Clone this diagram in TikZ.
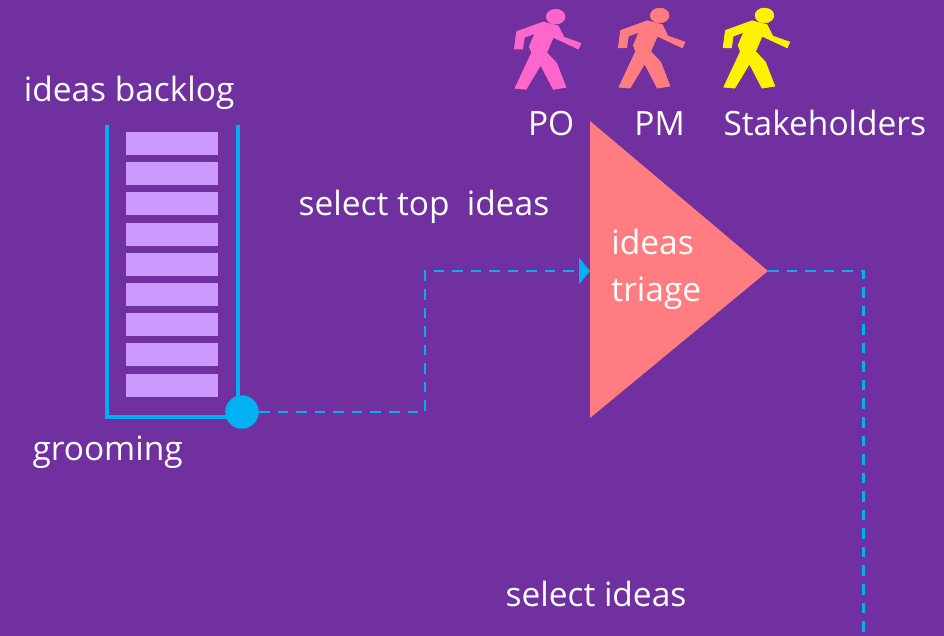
\documentclass[tikz,border=0pt]{standalone}
\usepackage{fontspec}
\usepackage{xcolor}
\setmainfont{Open Sans}
\usetikzlibrary{arrows.meta}
\usetikzlibrary{positioning}
\definecolor{boardPurple}{HTML}{7030A0}
\definecolor{lineBlue}{HTML}{00B0F0}
\definecolor{barLilac}{HTML}{CC99FF}
\definecolor{triageRed}{HTML}{FF7C80}
\definecolor{poPink}{HTML}{FF66CC}
\tikzset{
	caption/.style={text=white,font=\fontsize{23.8}{33}\selectfont,inner sep=0pt},
	backlogbar/.style={fill=barLilac,minimum width=2.3cm,minimum height=0.575cm,inner sep=0pt},
	backlogwall/.style={lineBlue,line width=2.8pt},
	flowline/.style={lineBlue,line width=1.9pt,dash pattern=on 7.5pt off 5.7pt},
	walker/.pic={
		\begin{scope}[x=0.00833cm,y=-0.00833cm]
		\path[pic actions] (167,50) ellipse (28 and 22);
		\path[pic actions] (130,66) -- (50,95) -- (43,147) -- (68,147) -- (73,112) -- (105,100) -- (88,140) -- (95,158) -- (45,265) -- (78,268) -- (122,195) -- (160,268) -- (198,262) -- (170,190) -- (140,158) -- (160,112) -- (235,147) -- (243,130) -- (192,112) -- (175,78) -- cycle;
		\end{scope}
	}
}
\begin{document}
\begin{tikzpicture}
\fill[boardPurple] (0,0) rectangle (23.6,15.9);
\useasboundingbox (0,0) rectangle (23.6,15.9);
% backlog
\node[caption] (backlogLabel) at (3.23,13.58) {ideas backlog};
\foreach \n in {0,...,8}
{
	\node[backlogbar] (bar\n) at (4.3,12.3125-0.755*\n) {};
}
\coordinate (wallLeftTop) at (2.675,12.775);
\coordinate (wallLeftBottom) at (2.675,5.475);
\coordinate (wallRightTop) at (5.96,12.775);
\coordinate (wallRightBottom) at (5.96,5.475);
\draw[backlogwall] (wallLeftTop) -- (wallLeftBottom) -- (wallRightBottom) -- (wallRightTop);
\node[fill=lineBlue,circle,minimum size=0.84cm,inner sep=0pt] (grooming) at (6.05,5.6) {};
\node[caption] (groomingLabel) at (2.69,4.6) {grooming};
% triage
\fill[triageRed] (14.75,12.875) -- (14.75,5.45) -- (19.2,9.125) -- cycle;
\coordinate (triageIn) at (14.75,9.125);
\coordinate (triageOut) at (19.2,9.125);
\node[caption,align=left,anchor=west] (triageLabel) at (15.28,9.17) {ideas\\triage};
\node[caption] (selectTop) at (10.6,10.72) {select top\ \ ideas};
% people
\pic[fill=poPink,draw=poPink,line width=0.5pt] (walkerPO) at (12.5,15.9) {walker};
\pic[fill=triageRed,draw=triageRed,line width=0.5pt] (walkerPM) at (15.1,15.93) {walker};
\pic[fill=yellow,draw=yellow,line width=0.5pt] (walkerSH) at (17.72,15.93) {walker};
\node[caption] (poLabel) at (13.78,12.82) {PO};
\node[caption] (pmLabel) at (16.49,12.82) {PM};
\node[caption] (shLabel) at (20.62,12.82) {Stakeholders};
% flow
\coordinate (flowBend) at (10.625,5.6);
\coordinate (flowRise) at (10.625,9.125);
\coordinate (flowTurn) at (21.58,9.125);
\coordinate (flowEnd) at (21.58,0);
\draw[flowline] (grooming) -- (flowBend) -- (flowRise) -- (triageIn);
\fill[lineBlue] (triageIn) -- ++(-0.27,0.33) -- ++(0,-0.66) -- cycle;
\draw[flowline] (triageOut) -- (flowTurn) -- (flowEnd);
\node[caption] (selectIdeas) at (14.9,1.05) {select ideas};
\end{tikzpicture}
\end{document}
